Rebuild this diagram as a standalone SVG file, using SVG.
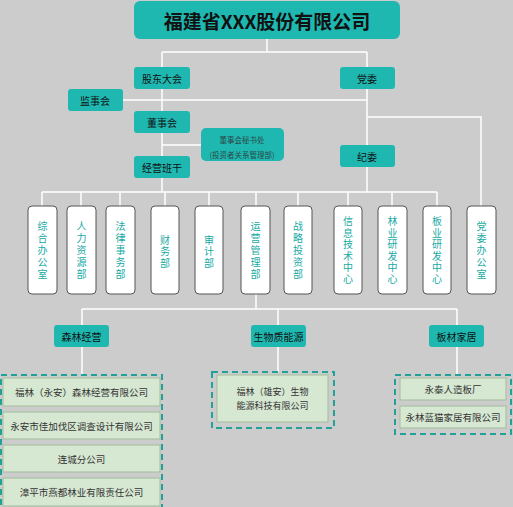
<svg xmlns="http://www.w3.org/2000/svg" width="513" height="507" viewBox="0 0 513 507">
<style>
text{font-family:"Noto Sans CJK SC","Noto Sans",sans-serif;text-anchor:middle;dominant-baseline:central}
.tb{fill:#1fb8b1}
.tt{font-size:10px;fill:#111}
.wb{fill:#fff;stroke:#555;stroke-width:1}
.vt{font-size:10px;fill:#17aaa4;writing-mode:vertical-rl;letter-spacing:2px}
.v6{letter-spacing:1.5px}
.v3{letter-spacing:1.5px}
.dash{fill:none;stroke:#23a196;stroke-width:2;stroke-dasharray:6 4}
.gb{fill:#d6e7d2;stroke:#a2bd9b;stroke-width:1}
.gt{font-size:9.5px;fill:#333}
.conn{fill:none;stroke:#fff;stroke-width:1.5}
</style>
<rect width="513" height="507" fill="#cccccc"/>
<g id="connectors" class="conn">
<path d="M267 39V52M162 52H367M162 52V192M367 52V192M123 100H367M367 117H481V206M162 145H201M42 192H437"/>
<path d="M42 192V206M81 192V206M120 192V206M165 192V206M209 192V206M256 192V206M298 192V206M348 192V206M392 192V206M437 192V206"/>
<path d="M256 294V309M82 309H457M82 309V375M278 309V372M457 309V375"/>
</g>
<g id="n-title"><rect class="tb" x="134" y="1" width="266" height="38" rx="6"/><text x="267" y="20" style="font-size:19px;font-weight:bold;fill:#111">福建省XXX股份有限公司</text></g>
<g id="n-gudong"><rect class="tb" x="134" y="67" width="56" height="22" rx="3"/><text class="tt" x="162" y="78">股东大会</text></g>
<g id="n-dangwei"><rect class="tb" x="340" y="67" width="55" height="22" rx="3"/><text class="tt" x="367" y="78">党委</text></g>
<g id="n-jianshi"><rect class="tb" x="68" y="89" width="55" height="22" rx="3"/><text class="tt" x="95" y="100">监事会</text></g>
<g id="n-dongshi"><rect class="tb" x="134" y="111" width="56" height="22" rx="3"/><text class="tt" x="162" y="122">董事会</text></g>
<g id="n-mishu"><rect class="tb" x="201" y="128" width="83" height="33" rx="5"/><text x="242" y="139" style="font-size:7.5px;fill:#2b4848">董事会秘书处</text><text x="242" y="154" style="font-size:7.5px;fill:#2b4848">(投资者关系管理部)</text></g>
<g id="n-jingying"><rect class="tb" x="134" y="156" width="56" height="22" rx="3"/><text class="tt" x="162" y="167">经营班干</text></g>
<g id="n-jiwei"><rect class="tb" x="340" y="145" width="55" height="22" rx="3"/><text class="tt" x="367" y="156">纪委</text></g>
<g id="d1"><rect class="wb" x="28" y="206" width="29" height="88" rx="4"/><text class="vt" x="42.5" y="251">综合办公室</text></g>
<g id="d2"><rect class="wb" x="67" y="206" width="29" height="88" rx="4"/><text class="vt" x="81.5" y="251">人力资源部</text></g>
<g id="d3"><rect class="wb" x="106" y="206" width="29" height="88" rx="4"/><text class="vt" x="120.5" y="251">法律事务部</text></g>
<g id="d4"><rect class="wb" x="151" y="206" width="28" height="88" rx="4"/><text class="vt v3" x="165" y="252">财务部</text></g>
<g id="d5"><rect class="wb" x="195" y="206" width="28" height="88" rx="4"/><text class="vt v3" x="209" y="252">审计部</text></g>
<g id="d6"><rect class="wb" x="241" y="206" width="29" height="88" rx="4"/><text class="vt" x="255.5" y="251">运营管理部</text></g>
<g id="d7"><rect class="wb" x="284" y="206" width="28" height="88" rx="4"/><text class="vt" x="298" y="251">战略投资部</text></g>
<g id="d8"><rect class="wb" x="334" y="206" width="28" height="88" rx="4"/><text class="vt v6" x="348" y="251">信息技术中心</text></g>
<g id="d9"><rect class="wb" x="378" y="206" width="29" height="88" rx="4"/><text class="vt v6" x="392.5" y="251">林业研发中心</text></g>
<g id="d10"><rect class="wb" x="423" y="206" width="28" height="88" rx="4"/><text class="vt v6" x="437" y="251">板业研发中心</text></g>
<g id="d11"><rect class="wb" x="467" y="206" width="29" height="88" rx="4"/><text class="vt" x="481.5" y="251">党委办公室</text></g>
<g id="n-senlin"><rect class="tb" x="54" y="325" width="55" height="22" rx="3"/><text class="tt" x="81.5" y="336">森林经营</text></g>
<g id="n-shengwu"><rect class="tb" x="251" y="325" width="55" height="22" rx="3"/><text class="tt" x="278.5" y="336">生物质能源</text></g>
<g id="n-bancai"><rect class="tb" x="429" y="325" width="55" height="22" rx="3"/><text class="tt" x="456.5" y="336">板材家居</text></g>
<g id="g-senlin">
<rect class="dash" x="1" y="375" width="161" height="134"/>
<rect class="gb" x="3" y="378" width="157" height="28"/><text class="gt" x="81.5" y="392">福林（永安）森林经营有限公司</text>
<rect class="gb" x="3" y="412" width="157" height="27"/><text class="gt" x="81.5" y="425.5">永安市佳加伐区调查设计有限公司</text>
<rect class="gb" x="3" y="445" width="157" height="27"/><text class="gt" x="81.5" y="458.5">连城分公司</text>
<rect class="gb" x="3" y="478" width="157" height="28"/><text class="gt" x="81.5" y="492">漳平市燕都林业有限责任公司</text>
</g>
<g id="g-shengwu">
<rect class="dash" x="212" y="372" width="122" height="56"/>
<rect class="gb" x="217" y="375" width="111" height="47"/><text class="gt" x="272.5" y="391" style="font-size:9px">福林（雄安）生物<tspan x="272.5" dy="13.5">能源科技有限公司</tspan></text>
</g>
<g id="g-bancai">
<rect class="dash" x="395" y="375" width="116" height="59"/>
<rect class="gb" x="400" y="378" width="106" height="22"/><text class="gt" x="453" y="389">永泰人造板厂</text>
<rect class="gb" x="400" y="406" width="106" height="22"/><text class="gt" x="453" y="417">永林蓝猫家居有限公司</text>
</g>
</svg>
